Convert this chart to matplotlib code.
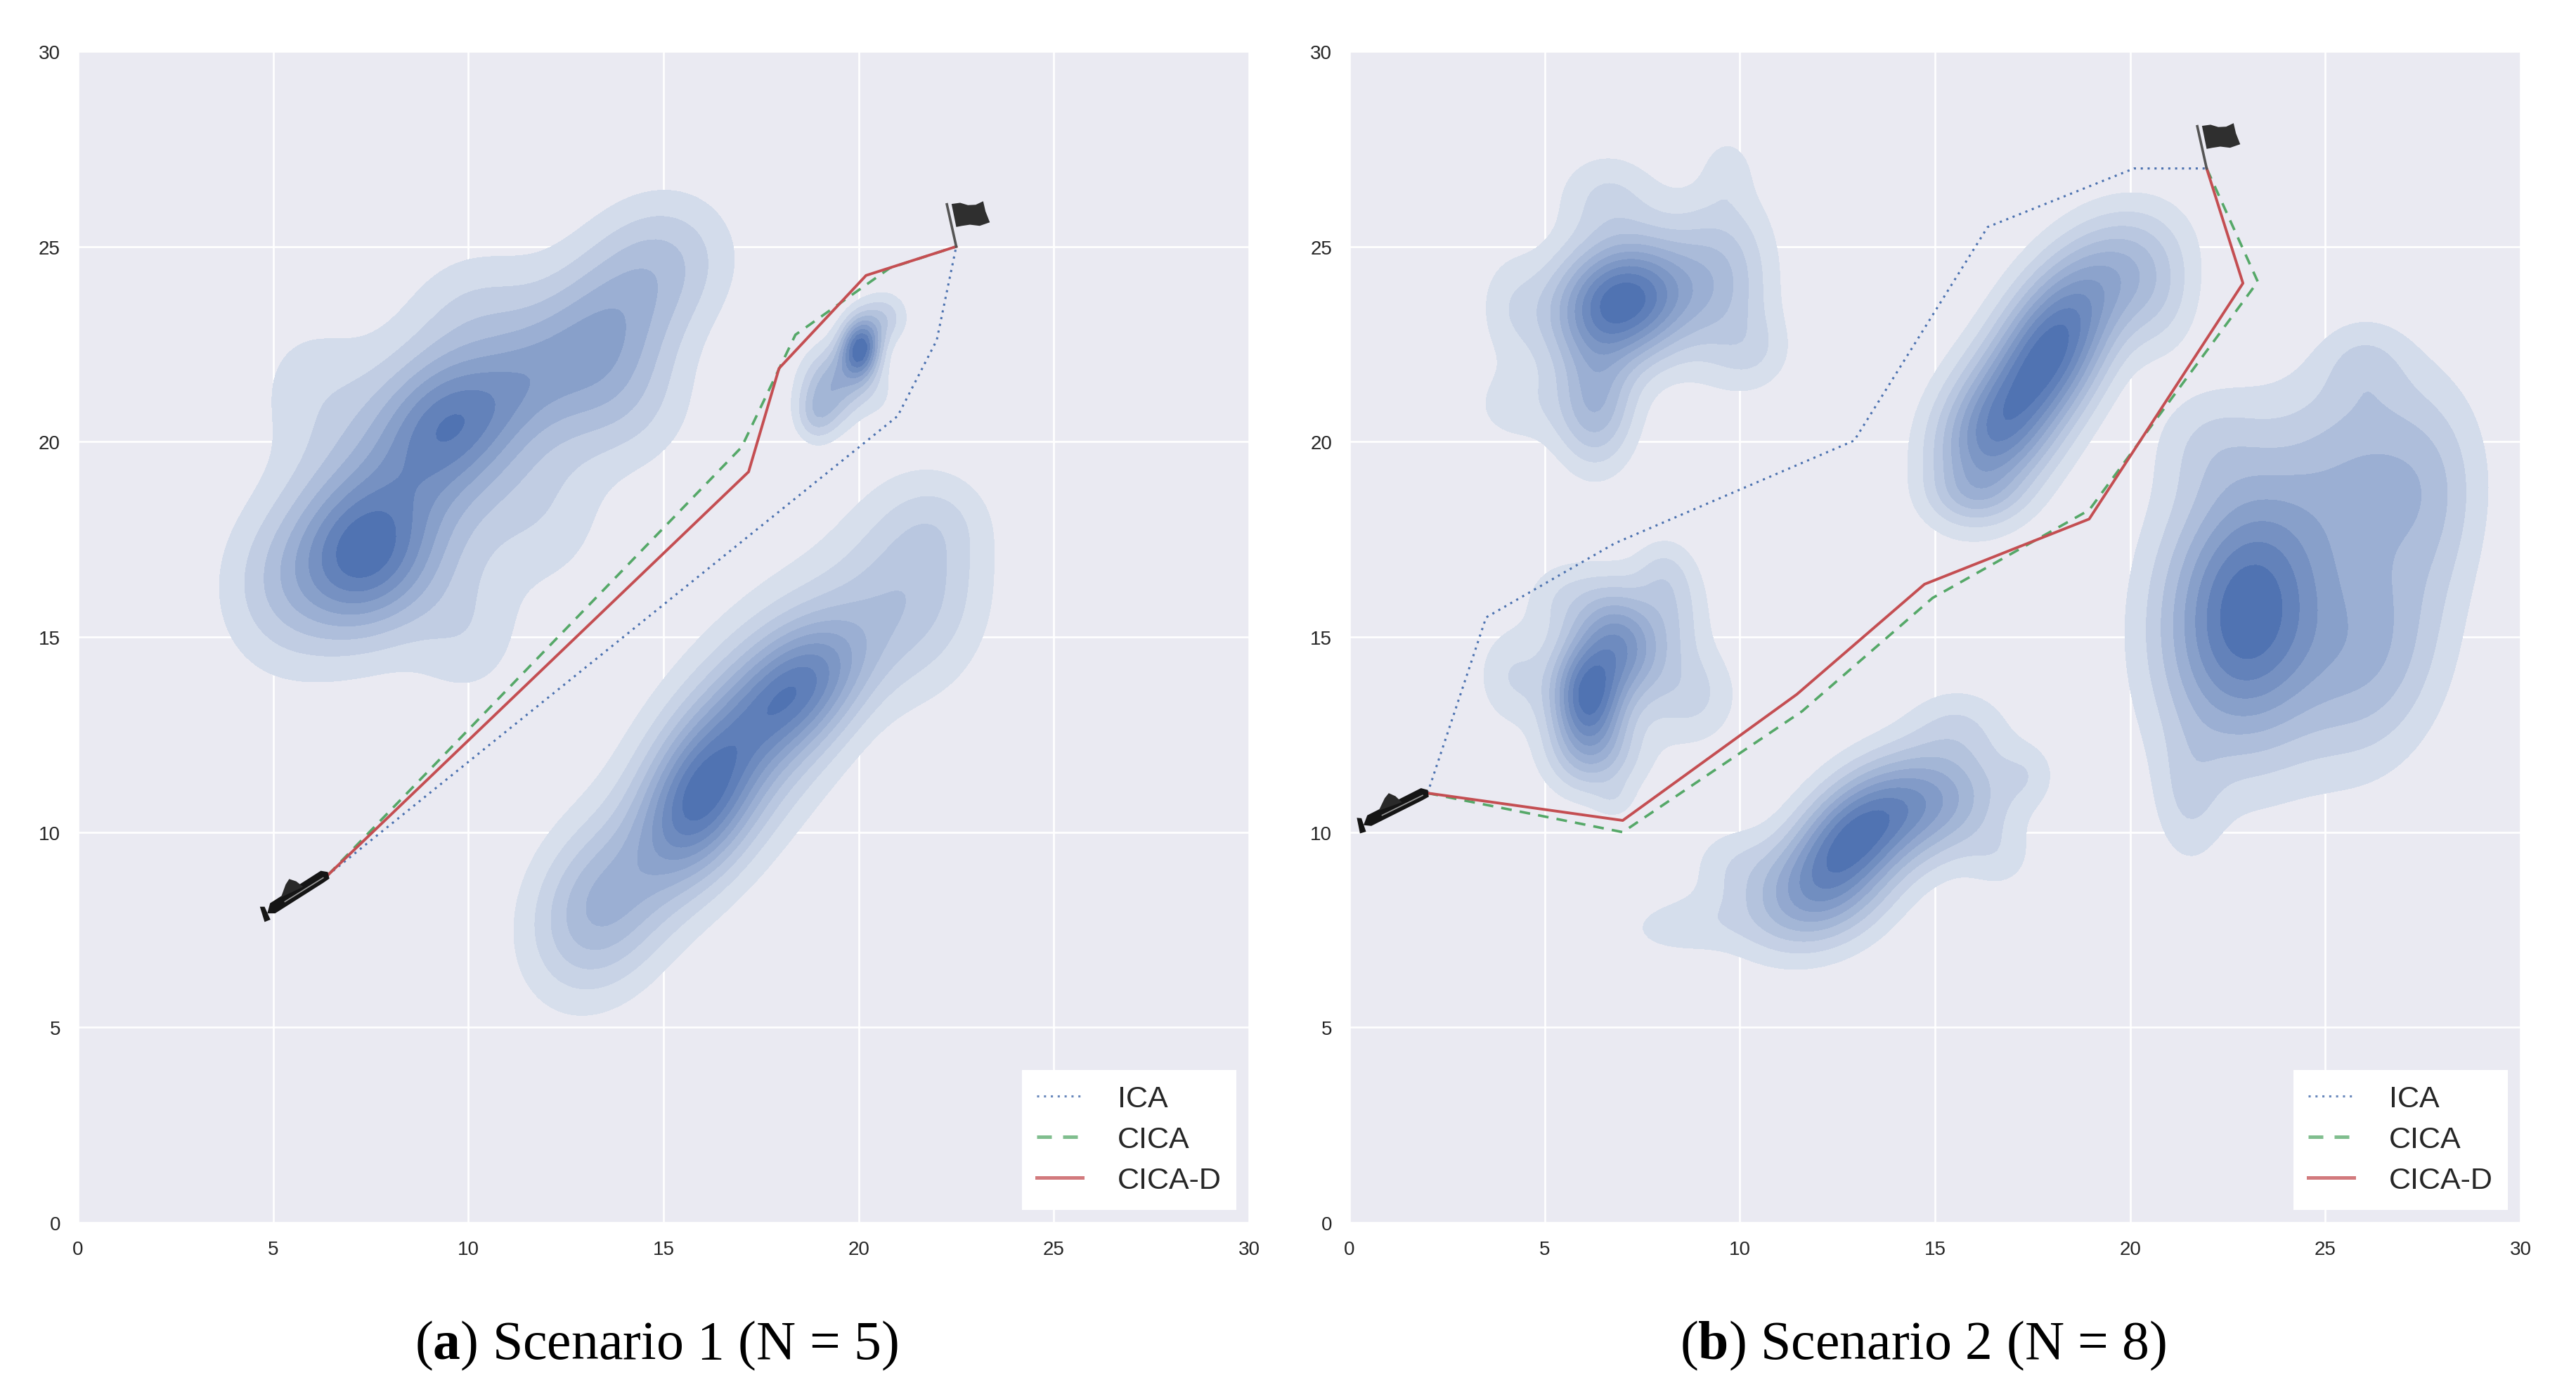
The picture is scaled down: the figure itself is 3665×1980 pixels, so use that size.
#!/usr/bin/env python3
"""Two scenario panels: threat density blobs with ICA / CICA / CICA-D routes."""

import matplotlib
matplotlib.use("Agg")
import matplotlib.pyplot as plt
from matplotlib.lines import Line2D
from matplotlib.patches import Polygon
import numpy as np


# route vertices
A_ICA_X = [6.4, 21.0, 22.0, 22.5]
A_ICA_Y = [8.9, 20.66, 22.6, 25.0]
A_CICA_X = [6.4, 17.0, 18.38, 20.8, 22.5]
A_CICA_Y = [8.9, 19.86, 22.74, 24.45, 25.0]
A_CICAD_X = [6.4, 17.18, 17.96, 20.19, 22.5]
A_CICAD_Y = [8.9, 19.23, 21.88, 24.26, 25.0]

B_ICA_X = [2.0, 3.5, 6.8, 12.93, 16.35, 20.1, 21.96]
B_ICA_Y = [11.0, 15.5, 17.4, 20.03, 25.5, 27.0, 27.0]
B_CICA_X = [2.0, 7.0, 11.6, 14.94, 18.95, 23.27, 21.96]
B_CICA_Y = [11.0, 10.0, 13.1, 16.0, 18.25, 24.1, 27.0]
B_CICAD_X = [2.0, 7.0, 11.46, 14.73, 18.95, 22.89, 21.96]
B_CICAD_Y = [11.0, 10.3, 13.53, 16.35, 18.02, 24.06, 27.0]

# density blobs: rows of x, y, weight, sigma x, sigma y, correlation
A_BLOB_LARGE = [
    (7.3, 17.1, 0.95, 1.25, 1.35, 0.10),
    (9.5, 20.5, 0.72, 1.20, 1.25, 0.20),
    (8.5, 19.0, 0.58, 2.20, 2.60, 0.45),
    (13.4, 22.7, 0.74, 1.50, 1.70, 0.40),
    (11.3, 21.5, 0.22, 1.00, 1.00, 0.40),
    (5.9, 21.5, 0.18, 1.10, 1.30, 0.00),
    (5.1, 16.2, 0.24, 1.10, 1.40, 0.00),
    (15.2, 24.8, 0.26, 1.20, 1.15, 0.00),
    (10.0, 15.0, 0.22, 1.00, 1.20, 0.00),
    (14.2, 20.8, 0.22, 1.20, 1.20, 0.00),
    (12.0, 18.0, 0.20, 1.20, 1.40, 0.00),
    (10.3, 23.4, 0.20, 1.20, 1.10, 0.00),
]
A_BLOB_SMALL = [
    (20.05, 22.4, 1.00, 0.35, 0.55, 0.10),
    (19.3, 21.4, 0.50, 0.55, 0.70, 0.10),
    (18.9, 20.6, 0.20, 0.35, 0.45, 0.00),
    (20.7, 23.2, 0.25, 0.40, 0.45, 0.00),
    (20.5, 21.2, 0.10, 0.40, 0.50, 0.00),
]
A_BLOB_LOWER = [
    (15.9, 10.8, 0.72, 1.00, 1.40, 0.35),
    (18.5, 13.7, 0.66, 1.20, 1.20, 0.45),
    (17.0, 12.3, 0.60, 2.10, 2.60, 0.65),
    (13.3, 8.0, 0.50, 1.20, 1.50, 0.20),
    (21.5, 16.2, 0.36, 1.25, 1.75, 0.05),
    (22.1, 18.0, 0.10, 0.90, 0.80, 0.00),
]

B_BLOB_TOP_LEFT = [
    (7.0, 23.6, 1.00, 1.25, 1.10, 0.15),
    (6.3, 20.9, 0.42, 0.70, 1.10, 0.00),
    (9.6, 24.2, 0.30, 0.90, 1.60, 0.00),
    (9.7, 27.0, 0.10, 0.40, 0.55, 0.00),
    (6.6, 26.3, 0.18, 0.90, 0.80, 0.00),
    (4.3, 20.9, 0.13, 0.90, 0.75, 0.00),
    (4.1, 23.5, 0.12, 0.60, 1.00, 0.00),
    (10.4, 22.3, 0.12, 0.70, 0.70, 0.00),
]
B_BLOB_TOP_RIGHT = [
    (18.0, 22.4, 1.00, 1.10, 1.50, 0.40),
    (16.4, 20.1, 0.70, 1.05, 1.30, 0.20),
    (19.9, 24.5, 0.35, 1.10, 1.10, 0.20),
    (16.0, 18.6, 0.15, 0.80, 0.50, 0.00),
    (20.8, 23.4, 0.14, 0.70, 1.00, 0.00),
]
B_BLOB_RIGHT = [
    (23.0, 15.6, 1.00, 1.50, 2.40, 0.10),
    (26.3, 19.3, 0.40, 1.60, 1.90, 0.00),
    (26.0, 22.0, 0.15, 0.75, 0.75, 0.00),
    (21.5, 10.8, 0.17, 0.60, 1.20, 0.00),
    (26.3, 14.6, 0.40, 1.30, 2.00, 0.20),
    (22.0, 20.0, 0.15, 1.00, 1.00, 0.00),
    (27.8, 18.5, 0.12, 0.80, 1.60, 0.00),
]
B_BLOB_MIDDLE = [
    (6.1, 13.5, 1.00, 0.65, 1.00, 0.00),
    (7.0, 14.9, 0.65, 0.75, 1.00, -0.20),
    (8.3, 15.7, 0.22, 0.65, 1.00, 0.00),
    (6.3, 11.9, 0.30, 0.90, 0.75, 0.00),
    (4.2, 14.0, 0.20, 0.65, 0.90, 0.00),
    (8.8, 13.5, 0.22, 0.80, 0.90, 0.00),
    (6.8, 10.8, 0.09, 0.35, 0.35, 0.00),
    (5.4, 16.0, 0.15, 0.70, 0.70, 0.00),
    (8.0, 16.7, 0.12, 0.50, 0.60, 0.00),
]
B_BLOB_LOWER = [
    (12.9, 9.9, 1.00, 1.10, 1.05, 0.35),
    (14.9, 10.8, 0.72, 1.35, 1.05, 0.10),
    (11.9, 8.3, 0.68, 1.30, 1.00, 0.20),
    (8.5, 7.6, 0.20, 1.10, 0.55, 0.10),
    (15.6, 12.8, 0.20, 0.90, 0.70, 0.00),
    (16.7, 9.3, 0.15, 0.60, 0.60, 0.00),
    (17.4, 11.5, 0.15, 0.50, 0.55, 0.00),
    (9.8, 9.2, 0.18, 0.80, 0.70, 0.00),
]

TICKS = [0, 5, 10, 15, 20, 25, 30]
CAPTIONS = [r"($\mathbf{a}$) Scenario 1 (N = 5)",
            r"($\mathbf{b}$) Scenario 2 (N = 8)"]

# icons, as offsets from the point they sit on
SUB_HULL = [(0.0, 0.08), (-0.18, 0.11), (-1.48, -0.72), (-1.55, -0.98),
            (-1.35, -0.98), (-0.12, -0.2), (0.04, -0.09)]
SUB_TOWER = [(-1.2, -0.57), (-1.08, -0.24), (-0.99, -0.1), (-0.81, -0.16),
             (-0.63, -0.3)]
SUB_FIN = [(-1.74, -0.81), (-1.62, -0.81), (-1.47, -1.14), (-1.62, -1.2)]
SUB_STRIPE = [(-0.12, -0.07), (-1.1, -0.68)]
FLAG_BODY = [(-0.12, 1.09), (0.1, 1.12), (0.3, 1.06), (0.5, 1.07), (0.69, 1.16),
             (0.75, 0.9), (0.86, 0.62), (0.6, 0.53), (0.35, 0.56), (0.15, 0.53),
             (0.0, 0.5)]
FLAG_POLE = [(0.0, 0.0), (-0.24, 1.08)]

BG = "#EAEAF2"
BLUE, GREEN, RED = "#4C72B0", "#55A868", "#C44E52"
LIGHT = np.array([230, 235, 243]) / 255
DARK = np.array([80, 115, 178]) / 255

plt.rcParams["font.family"] = ["Liberation Sans", "DejaVu Sans"]
plt.rcParams["mathtext.fontset"] = "custom"
plt.rcParams["mathtext.rm"] = "Liberation Serif"
plt.rcParams["mathtext.bf"] = "Liberation Serif:bold"


def draw_blob(ax, rows, n_levels):
    grid = np.linspace(0, 30, 240)
    xx, yy = np.meshgrid(grid, grid)
    density = np.zeros_like(xx)
    for x0, y0, weight, sx, sy, rho in rows:
        dx = (xx - x0) / sx
        dy = (yy - y0) / sy
        density += weight * np.exp(
            -(dx * dx - 2 * rho * dx * dy + dy * dy) / (2 * (1 - rho * rho)))
    peak = density.max()
    levels = np.linspace(peak / (n_levels + 1), peak * 1.001, n_levels + 1)
    colors = [LIGHT + (DARK - LIGHT) * (i + 1) / n_levels
              for i in range(n_levels)]
    ax.contourf(xx, yy, density, levels=levels, colors=colors, zorder=2)


def draw_sub(ax, x, y, angle=0.0):
    c, s = np.cos(angle), np.sin(angle)

    def place(points):
        pts = np.asarray(points)
        return np.column_stack((x + c * pts[:, 0] - s * pts[:, 1],
                                y + s * pts[:, 0] + c * pts[:, 1]))

    for shape, color in ((SUB_HULL, "#151515"), (SUB_TOWER, "#2a2a2a"),
                         (SUB_FIN, "#151515")):
        ax.add_patch(Polygon(place(shape), closed=True, fc=color, ec="none",
                             zorder=5))
    stripe = place(SUB_STRIPE)
    ax.plot(stripe[:, 0], stripe[:, 1], color="#9a9a9a", lw=1.2, zorder=6)


def draw_flag(ax, x, y):
    body = np.asarray(FLAG_BODY) + (x, y)
    pole = np.asarray(FLAG_POLE) + (x, y)
    ax.add_patch(Polygon(body, closed=True, fc="#2f2f2f", ec="none", zorder=5))
    ax.plot(pole[:, 0], pole[:, 1], color="#555555", lw=2.6, zorder=5)


def draw_panel(ax, blobs, ica, cica, cicad, caption, caption_x):
    for rows, n_levels in blobs:
        draw_blob(ax, rows, n_levels)
    ax.plot(*ica, color=BLUE, ls=(0, (1, 2.2)), lw=2.2, zorder=3)
    ax.plot(*cica, color=GREEN, ls=(0, (4.2, 3.2)), lw=2.6, zorder=3)
    ax.plot(*cicad, color=RED, lw=2.8, zorder=4)

    ax.set_xlim(0, 30)
    ax.set_ylim(0, 30)
    ax.set_xticks(TICKS)
    ax.set_yticks(TICKS)
    ax.set_facecolor(BG)
    ax.grid(color="white", lw=1.9)
    ax.set_axisbelow(True)
    ax.tick_params(length=0, pad=18, labelsize=20, labelcolor="#262626")
    for spine in ax.spines.values():
        spine.set_visible(False)

    handles = [
        Line2D([], [], color=BLUE, ls=(0, (1, 2.2)), lw=2.2, alpha=0.85),
        Line2D([], [], color=GREEN, ls=(0, (4.2, 3.2)), lw=3.6, alpha=0.75),
        Line2D([], [], color=RED, lw=3.6, alpha=0.75),
    ]
    legend = ax.legend(
        handles, ["ICA", "CICA", "CICA-D"], loc="lower right", fontsize=31,
        frameon=True, framealpha=1, facecolor="white", edgecolor="none",
        fancybox=False, handlelength=1.5, handletextpad=1.15,
        labelspacing=0.42, borderpad=0.5, borderaxespad=0.42)
    legend.set_zorder(7)
    for text in legend.get_texts():
        text.set_color("#262626")

    ax.text(caption_x, -0.1046, caption, transform=ax.transAxes, ha="center",
            va="center", fontsize=56, family=["Liberation Serif", "DejaVu Serif"],
            color="black")


fig = plt.figure(figsize=(36.66, 19.81), dpi=100, facecolor="white")
W, H = 3666, 1981
ax_a = fig.add_axes([111 / W, 1 - 1740 / H, 1666 / W, 1666 / H])
ax_b = fig.add_axes([1920 / W, 1 - 1740 / H, 1666 / W, 1666 / H])

draw_panel(ax_a,
           [(A_BLOB_LARGE, 8), (A_BLOB_SMALL, 9), (A_BLOB_LOWER, 10)],
           (A_ICA_X, A_ICA_Y), (A_CICA_X, A_CICA_Y), (A_CICAD_X, A_CICAD_Y),
           CAPTIONS[0], 0.494)
draw_sub(ax_a, A_CICAD_X[0], A_CICAD_Y[0])
draw_flag(ax_a, A_CICAD_X[-1], A_CICAD_Y[-1])

draw_panel(ax_b,
           [(B_BLOB_TOP_LEFT, 10), (B_BLOB_TOP_RIGHT, 10), (B_BLOB_RIGHT, 8),
            (B_BLOB_MIDDLE, 10), (B_BLOB_LOWER, 9)],
           (B_ICA_X, B_ICA_Y), (B_CICA_X, B_CICA_Y), (B_CICAD_X, B_CICAD_Y),
           CAPTIONS[1], 0.49)
draw_sub(ax_b, B_CICAD_X[0], B_CICAD_Y[0], angle=-0.1)
draw_flag(ax_b, B_CICAD_X[-1], B_CICAD_Y[-1])

fig.savefig("out.png", dpi=100, facecolor="white")
plt.close(fig)
